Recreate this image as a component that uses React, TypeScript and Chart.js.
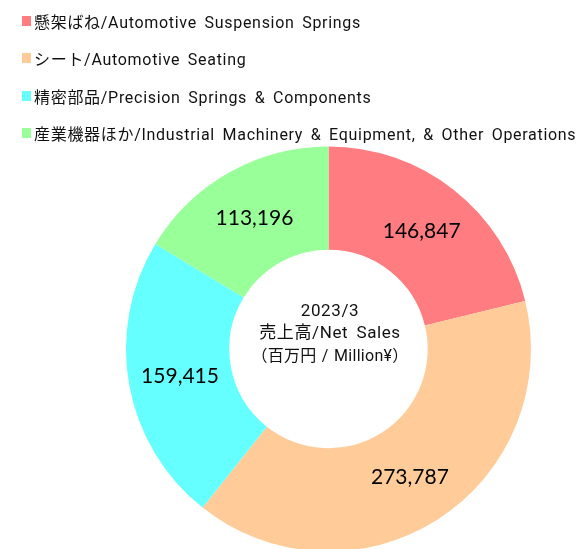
import React, { useEffect, useRef } from "react";
import { Chart, registerables } from "chart.js";

Chart.register(...registerables);

const categories = [
  "懸架ばね/Automotive Suspension Springs",
  "シート/Automotive Seating",
  "精密部品/Precision Springs & Components",
  "産業機器ほか/Industrial Machinery & Equipment, & Other Operations",
];
const netSales = [146847, 273787, 159415, 113196];
const sliceColors = ["#FF7C80", "#FFCC99", "#66FFFF", "#99FF99"];
const centerLines = ["2023/3", "売上高/Net Sales", "（百万円 / Million¥）"];

const LEGEND_FONT = "Roboto, 'Noto Sans CJK JP', sans-serif";

const labelsPlugin = {
  id: "sliceLabels",
  afterDatasetsDraw(chart: any) {
    const ctx = chart.ctx;
    const meta = chart.getDatasetMeta(0);
    ctx.save();
    ctx.fillStyle = "#000";
    ctx.textAlign = "center";
    ctx.textBaseline = "middle";
    ctx.font = "21px Lato, 'Open Sans', sans-serif";
    meta.data.forEach((arc: any, i: number) => {
      const p = arc.tooltipPosition();
      ctx.fillText(netSales[i].toLocaleString("en-US"), p.x, p.y + 1);
    });
    const cx = (chart.chartArea.left + chart.chartArea.right) / 2;
    const cy = (chart.chartArea.top + chart.chartArea.bottom) / 2;
    ctx.fillStyle = "#111";
    const lh = 22.5;
    centerLines.forEach((t, i) => {
      const last = i === centerLines.length - 1;
      ctx.font = (last ? "16px " : "17px ") + LEGEND_FONT;
      try {
        ctx.letterSpacing = last ? "0.3px" : "0.6px";
        ctx.wordSpacing = last ? "1px" : "3.5px";
      } catch (e) {}
      ctx.fillText(t, cx + 1.5, cy - lh * 1.8 + lh * i + 3);
    });
    ctx.restore();
  },
};

function App() {
  const ref = useRef<HTMLCanvasElement | null>(null);
  useEffect(() => {
    document.body.style.margin = "0";
    const chart = new Chart(ref.current as HTMLCanvasElement, {
      type: "doughnut",
      data: {
        labels: categories,
        datasets: [
          {
            data: netSales,
            backgroundColor: sliceColors,
            borderWidth: 0,
            hoverOffset: 0,
          },
        ],
      },
      options: {
        animation: false,
        responsive: false,
        cutout: "49%",
        layout: { padding: { left: 126, right: 47, top: 146.5, bottom: 48.5 } },
        plugins: {
          legend: { display: false },
          tooltip: { enabled: false },
        },
      },
      plugins: [labelsPlugin],
    });
    return () => chart.destroy();
  }, []);

  return (
    <div
      style={{
        position: "relative",
        width: 578,
        height: 549,
        overflow: "hidden",
        background: "#fff",
      }}
    >
      <canvas
        ref={ref}
        width={578}
        height={600}
        style={{ position: "absolute", left: 0, top: 0, width: 578, height: 600 }}
      />
      {categories.map((c, i) => (
        <div
          key={c}
          style={{
            position: "absolute",
            left: 22,
            top: 21 + i * 37.3 - 11,
            height: 22,
            display: "flex",
            alignItems: "center",
            whiteSpace: "nowrap",
            fontFamily: LEGEND_FONT,
            fontSize: 16,
            letterSpacing: "0.7px",
            wordSpacing: "3px",
            color: "#111",
          }}
        >
          <span
            style={{
              display: "inline-block",
              width: 9,
              height: 10,
              background: sliceColors[i],
              marginRight: 3,
            }}
          />
          <span>{c}</span>
        </div>
      ))}
    </div>
  );
}

export default App;
